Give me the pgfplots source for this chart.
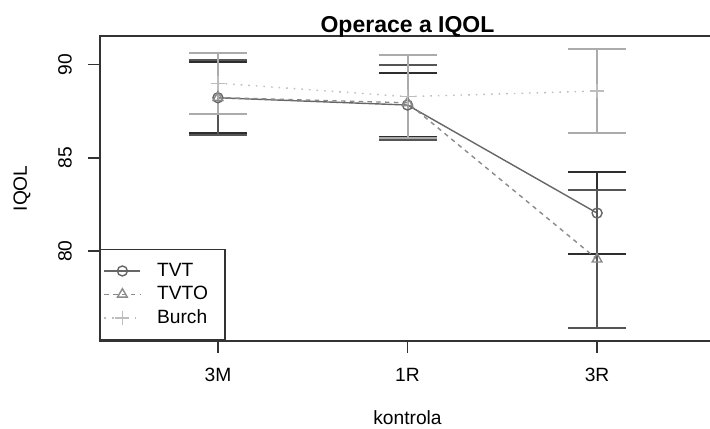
\documentclass[border=0pt]{standalone}
\usepackage{fontspec}
\setmainfont{Liberation Sans}
\usepackage{pgfplots}
\pgfplotsset{compat=1.18}
\usepackage{pgfplotstable}

\definecolor{tvtbar}{HTML}{2E2E2E}
\definecolor{tvtobar}{HTML}{555555}
\definecolor{burchbar}{HTML}{ABABAB}
\definecolor{tvtline}{HTML}{666666}
\definecolor{tvtoline}{HTML}{8A8A8A}
\definecolor{burchline}{HTML}{BDBDBD}
\definecolor{axisgray}{HTML}{333333}

% mean and half-width of the interval for each group
\pgfplotstableread{
x mean err
1 88.22 1.905
2 87.83 1.73
3 82.04 2.20
}\tvt
\pgfplotstableread{
x mean err
1 88.23 2.01
2 87.95 2.00
3 79.57 3.705
}\tvto
\pgfplotstableread{
x mean err
1 89.00 1.63
2 88.28 2.23
3 88.58 2.24
}\burch

\newcommand{\lblfont}{\fontsize{9.6}{11.5}\selectfont}

\begin{document}
\begin{tikzpicture}
\begin{axis}[
  name=ax,
  at={(0pt,0pt)}, anchor=south west,
  scale only axis,
  width=307.5pt, height=152.35pt,
  xmin=0.378, xmax=3.622,
  ymin=75.2, ymax=91.53,
  xtick={1,2,3},
  xticklabels={3M,1R,3R},
  ytick={80,85,90},
  xtick pos=lower, ytick pos=left,
  tick align=outside,
  major tick length=5.9pt,
  axis line style={axisgray, line width=0.8pt},
  every tick/.style={axisgray, line width=0.8pt},
  /pgf/number format/assume math mode=true,
  tick label style={font=\lblfont, inner sep=0pt},
  yticklabel style={rotate=90, anchor=south},
  yticklabel shift=8pt,
  xticklabel style={anchor=north},
  xticklabel shift=7.5pt,
  every axis title shift=0pt,
  title={Operace a IQOL},
  title style={font=\fontsize{11.5}{13.8}\selectfont\bfseries,
    at={(axis description cs:0.5,1)}, anchor=base, yshift=1.75pt, inner sep=0pt},
  xlabel={kontrola},
  xlabel style={font=\lblfont, at={(axis description cs:0.5,0)},
    anchor=base, yshift=-42pt, inner sep=0pt},
  ylabel={IQOL},
  ylabel style={font=\lblfont, at={(axis description cs:-0.1187,0.5)},
    anchor=base, inner sep=0pt},
  legend image code/.code={%
    \draw[mark repeat=2,mark phase=2,#1]
      plot coordinates {(0pt,0pt) (9pt,0pt) (18pt,0pt)};},
  legend cell align=left,
  legend style={at={(0,0)}, anchor=south west, fill=white,
    draw=axisgray, line width=0.7pt,
    inner xsep=1.5pt, inner ysep=4.8pt,
    font=\lblfont, row sep=-0.5pt,
    /tikz/every odd column/.append style={column sep=6pt}},
]
\addplot[tvtline, line width=0.7pt, mark=o, mark size=2.5pt,
  mark options={solid},
  error bars/.cd, y dir=both, y explicit,
  error bar style={tvtbar, line width=1pt, solid},
  error mark options={tvtbar, line width=1pt, mark size=14.5pt, rotate=90}]
  table[x=x, y=mean, y error=err] {\tvt};
\addlegendentry{\makebox[30.5pt][l]{TVT}}
\addplot[tvtoline, line width=0.7pt, dash pattern=on 2.2pt off 2.2pt,
  mark=triangle, mark size=2.8pt, mark options={solid},
  error bars/.cd, y dir=both, y explicit,
  error bar style={tvtobar, line width=1pt, solid},
  error mark options={tvtobar, line width=1pt, mark size=14.5pt, rotate=90}]
  table[x=x, y=mean, y error=err] {\tvto};
\addlegendentry{\makebox[30.5pt][l]{TVTO}}
\addplot[burchline, line width=0.7pt, dash pattern=on 0.8pt off 3pt,
  mark=+, mark size=3.5pt, mark options={solid},
  error bars/.cd, y dir=both, y explicit,
  error bar style={burchbar, line width=1pt, solid},
  error mark options={burchbar, line width=1pt, mark size=14.5pt, rotate=90}]
  table[x=x, y=mean, y error=err] {\burch};
\addlegendentry{\makebox[30.5pt][l]{Burch}}
\end{axis}
\pgfresetboundingbox
\path (-50pt,-43.65pt) rectangle (305pt,170.35pt);
\end{tikzpicture}
\end{document}
